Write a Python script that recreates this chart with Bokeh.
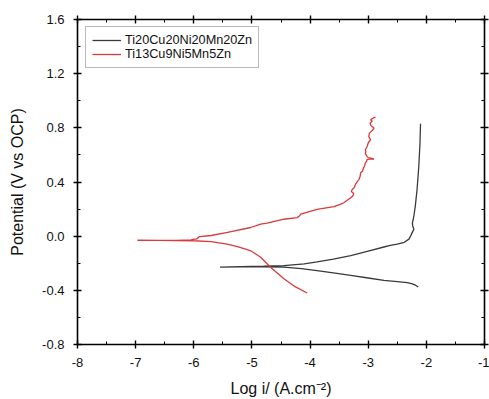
from bokeh.plotting import figure
from bokeh.models import (LinearAxis, FixedTicker, PrintfTickFormatter, Legend,
                          LegendItem, Range1d)
from bokeh.embed import file_html
from bokeh.resources import INLINE

# ---- data ----
black_name = "Ti20Cu20Ni20Mn20Zn"
black_x = [-2.14, -2.18, -2.24, -2.33, -2.5, -2.73, -3.0, -3.3, -3.6, -3.88, -4.15,
           -4.45, -4.8, -5.2, -5.55,
           -5.2, -4.8, -4.45, -4.1, -3.88, -3.6, -3.3, -3.0, -2.73, -2.62, -2.5,
           -2.38, -2.3, -2.27, -2.24, -2.215, -2.235, -2.24, -2.225, -2.215, -2.19,
           -2.16, -2.145, -2.13, -2.12, -2.11, -2.105, -2.1]
black_y = [-0.376, -0.364, -0.352, -0.343, -0.336, -0.327, -0.309, -0.29, -0.271,
           -0.254, -0.24, -0.229, -0.226, -0.226, -0.228,
           -0.225, -0.222, -0.217, -0.205, -0.19, -0.17, -0.144, -0.11, -0.08,
           -0.068, -0.058, -0.045, -0.022, 0.002, 0.03, 0.051, 0.075, 0.1, 0.125,
           0.149, 0.222, 0.345, 0.43, 0.516, 0.6, 0.68, 0.76, 0.83]

red_name = "Ti13Cu9Ni5Mn5Zn"
red_x = [-4.05, -4.25, -4.45, -4.68, -4.85, -5.02, -5.08, -5.25, -5.43, -5.7, -6.0,
         -6.3, -6.6, -6.97,
         -6.6, -6.3, -6.05, -5.95, -5.9, -5.7, -5.42, -5.02, -4.85, -4.74, -4.45,
         -4.22, -4.18, -4.16, -3.88, -3.59, -3.48, -3.42, -3.3, -3.26, -3.25,
         -3.29, -3.275, -3.24, -3.22, -3.2, -3.16, -3.14, -3.13, -3.1, -3.08,
         -3.06, -3.05, -3.03, -3.02, -2.96, -2.9, -3.0, -3.02, -3.05, -3.04,
         -3.05, -3.02, -3.0, -2.96, -2.99, -2.98, -2.93, -2.9, -2.95, -2.97,
         -2.93, -2.96, -2.92, -2.875]
red_y = [-0.42, -0.375, -0.315, -0.23, -0.156, -0.108, -0.1, -0.078, -0.059,
         -0.04, -0.034, -0.032, -0.031, -0.03,
         -0.031, -0.031, -0.028, -0.02, -0.003, 0.005, 0.028, 0.064, 0.089,
         0.096, 0.125, 0.137, 0.15, 0.162, 0.198, 0.218, 0.235, 0.247, 0.284,
         0.3, 0.315, 0.33, 0.345, 0.36, 0.382, 0.395, 0.418, 0.44, 0.468, 0.48,
         0.504, 0.52, 0.541, 0.55, 0.565, 0.57, 0.57, 0.58, 0.589, 0.61, 0.625,
         0.638, 0.66, 0.688, 0.712, 0.735, 0.761, 0.78, 0.798, 0.815, 0.834,
         0.85, 0.859, 0.871, 0.879]

x_ticks = [-8, -7, -6, -5, -4, -3, -2, -1]
x_minor = [-7.5, -6.5, -5.5, -4.5, -3.5, -2.5, -1.5]
y_ticks = [-0.8, -0.4, 0.0, 0.4, 0.8, 1.2, 1.6]
y_minor = [-0.6, -0.2, 0.2, 0.6, 1.0, 1.4]

x_label = "Log i/ (A.cm\u207b\u00b2)"
y_label = "Potential (V vs OCP)"

FONT = "Liberation Sans"

p = figure(width=489, height=399, output_backend="svg", toolbar_location=None,
           x_range=Range1d(-8, -1), y_range=Range1d(-0.8, 1.6),
           x_axis_label=x_label, y_axis_label=y_label)
p.min_border_left = 77
p.min_border_right = 5
p.min_border_top = 19
p.min_border_bottom = 53
p.outline_line_color = None
p.grid.visible = False
p.background_fill_color = "white"
p.border_fill_color = "white"

rb = p.line(black_x, black_y, line_color="#3a3a3a", line_width=1.3)
rr = p.line(red_x, red_y, line_color="#d93a3a", line_width=1.3)


def style(ax, ticks, minor, fmt, labels=True, out=4):
    ax.ticker = FixedTicker(ticks=ticks, minor_ticks=minor)
    ax.formatter = PrintfTickFormatter(format=fmt)
    ax.axis_line_color = "black"
    ax.axis_line_width = 1.6
    ax.major_tick_line_color = "black"
    ax.major_tick_line_width = 1.4
    ax.minor_tick_line_color = "black"
    ax.minor_tick_line_width = 1.0
    ax.major_tick_in = 4
    ax.major_tick_out = out
    ax.minor_tick_in = 3
    ax.minor_tick_out = 0
    if labels:
        ax.major_label_text_font = FONT
        ax.major_label_text_font_size = "13px"
        ax.major_label_text_color = "#111111"
        ax.axis_label_text_font = FONT
        ax.axis_label_text_font_size = "16px"
        ax.axis_label_text_font_style = "normal"
        ax.axis_label_text_color = "#111111"
    else:
        ax.major_label_overrides = {t: "" for t in ticks}
        ax.major_label_text_font_size = "1px"
        ax.major_label_standoff = 0


style(p.xaxis[0], x_ticks, x_minor, "%d")
style(p.yaxis[0], y_ticks, y_minor, "%.1f")
p.xaxis[0].major_label_standoff = 9
p.xaxis[0].axis_label_standoff = 10
p.yaxis[0].major_label_standoff = 9
p.yaxis[0].axis_label_standoff = 13

top = LinearAxis()
style(top, x_ticks, x_minor, "%d", labels=False, out=4)
p.add_layout(top, "above")
right = LinearAxis()
style(right, y_ticks, y_minor, "%.1f", labels=False, out=4)
p.add_layout(right, "right")

legend = Legend(items=[LegendItem(label=black_name, renderers=[rb]),
                       LegendItem(label=red_name, renderers=[rr])],
                location=(8, 276))
legend.label_text_font = FONT
legend.label_text_font_size = "12.7px"
legend.label_text_color = "#111111"
legend.glyph_width = 29
legend.glyph_height = 12
legend.label_height = 12
legend.label_standoff = 4
legend.spacing = -3
legend.padding = 6
legend.margin = 0
legend.border_line_color = "#777777"
legend.border_line_width = 1
legend.background_fill_alpha = 1
p.add_layout(legend, "center")

open("out.html", "w").write(file_html(p, INLINE))
